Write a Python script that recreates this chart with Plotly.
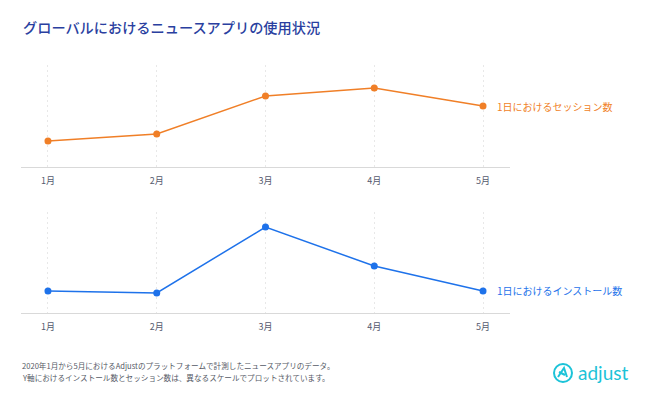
import plotly.graph_objects as go

W, H = 650, 401

months = ["1月", "2月", "3月", "4月", "5月"]
sessions = [25.5, 32.4, 69.6, 77.5, 59.8]
installs = [21.8, 19.8, 85.1, 46.5, 21.8]

title_text = "グローバルにおけるニュースアプリの使用状況"
session_label = "1日におけるセッション数"
install_label = "1日におけるインストール数"
footer_lines = [
    "2020年1月から5月におけるAdjustのプラットフォームで計測したニュースアプリのデータ。",
    "Y軸におけるインストール数とセッション数は、異なるスケールでプロットされています。",
]
logo_text = "adjust"

ORANGE = "#F07F27"
BLUE = "#1E72EA"
CYAN = "#1CC3D8"
FONT = "Noto Sans CJK JP"


def px(x):
    return x / W


def py(y):
    return 1 - y / H


fig = go.Figure()
fig.add_trace(go.Scatter(x=months, y=sessions, mode="lines+markers",
                         line=dict(color=ORANGE, width=1.5),
                         marker=dict(color=ORANGE, size=7),
                         xaxis="x", yaxis="y", showlegend=False, hoverinfo="skip"))
fig.add_trace(go.Scatter(x=months, y=installs, mode="lines+markers",
                         line=dict(color=BLUE, width=1.5),
                         marker=dict(color=BLUE, size=7),
                         xaxis="x2", yaxis="y2", showlegend=False, hoverinfo="skip"))

xcommon = dict(
    type="category", range=[-0.248, 4.248], domain=[px(21), px(510)],
    showgrid=True, griddash="2px,3px", gridcolor="#e8e8e8", gridwidth=1,
    showline=True, linecolor="#d9d9d9", linewidth=1,
    zeroline=False, ticks="", fixedrange=True, ticklabelstandoff=5,
    tickfont=dict(family=FONT, size=9, color="#555a6e"),
)
ycommon = dict(range=[0, 100], showgrid=False, showticklabels=False,
               zeroline=False, showline=False, fixedrange=True)

fig.update_layout(
    width=W, height=H,
    margin=dict(l=0, r=0, t=0, b=0),
    paper_bgcolor="white", plot_bgcolor="white",
    font=dict(family=FONT),
    xaxis=dict(**xcommon, anchor="y"),
    yaxis=dict(**ycommon, domain=[py(167), py(65)], anchor="x"),
    xaxis2=dict(**xcommon, anchor="y2"),
    yaxis2=dict(**ycommon, domain=[py(313), py(212)], anchor="x2"),
)

annotations = [
    dict(text=title_text, x=px(21), y=py(27), xref="paper", yref="paper",
         xanchor="left", yanchor="middle", showarrow=False,
         font=dict(family=FONT, size=14.2, color="#2A3FA0", weight=500)),
    dict(text=session_label, x=4, y=sessions[-1], xref="x", yref="y",
         xanchor="left", yanchor="middle", xshift=12, showarrow=False,
         font=dict(family=FONT, size=10, color=ORANGE)),
    dict(text=install_label, x=4, y=installs[-1], xref="x2", yref="y2",
         xanchor="left", yanchor="middle", xshift=12, showarrow=False,
         font=dict(family=FONT, size=10, color=BLUE)),
    dict(text=footer_lines[0], x=px(20), y=py(365), xref="paper", yref="paper",
         xanchor="left", yanchor="middle", showarrow=False,
         font=dict(family=FONT, size=7.6, color="#555a66")),
    dict(text=footer_lines[1], x=px(20), y=py(377), xref="paper", yref="paper",
         xanchor="left", yanchor="middle", showarrow=False,
         font=dict(family=FONT, size=7.6, color="#555a66")),
    dict(text=logo_text, x=px(576), y=py(372), xref="paper", yref="paper",
         xanchor="left", yanchor="middle", showarrow=False,
         font=dict(family="Lato", size=19, color=CYAN)),
]
fig.update_layout(annotations=annotations)

# logo mark: circle with a stylised "A"
cx, cy, r = 563, 373, 9
fig.add_shape(type="circle", xref="paper", yref="paper",
              x0=px(cx - r), x1=px(cx + r), y0=py(cy + r), y1=py(cy - r),
              line=dict(color=CYAN, width=2))
path = (f"M {px(cx-5)},{py(cy+4)} L {px(cx+1)},{py(cy-5)} L {px(cx+4)},{py(cy+4)} "
        f"M {px(cx-4)},{py(cy-1)} L {px(cx+2)},{py(cy+2)}")
fig.add_shape(type="path", xref="paper", yref="paper", path=path,
              line=dict(color=CYAN, width=2))

fig.write_html("out.html", config={"displayModeBar": False},
               post_script="document.body.style.margin='0';")
